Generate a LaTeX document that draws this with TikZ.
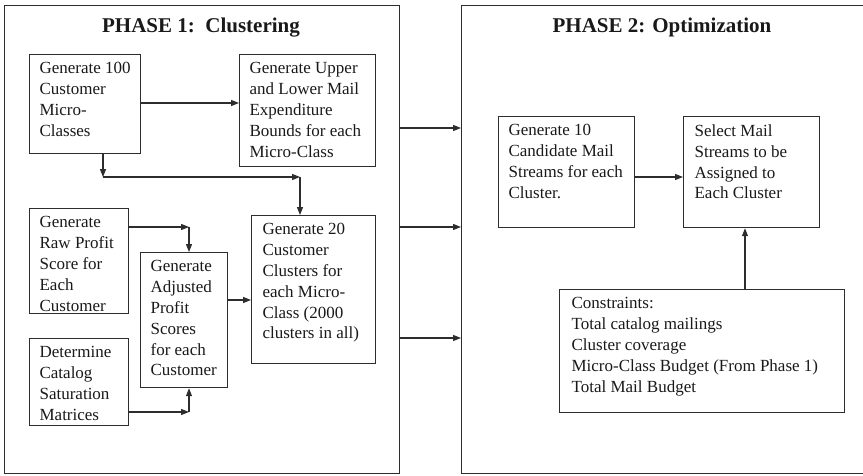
\documentclass[tikz,border=0pt]{standalone}
\usepackage{fontspec}
\setmainfont{Liberation Serif}
\usetikzlibrary{arrows.meta}

\definecolor{ink}{RGB}{45,45,45}
\tikzset{
  phase/.style={draw=ink, line width=1.3pt, anchor=north west, inner sep=0pt},
  stage/.style={draw=ink, line width=1.2pt, anchor=north west, inner xsep=10pt,
    inner ysep=8pt, text=black!90, font=\fontsize{17}{20.8}\selectfont},
  title/.style={anchor=base, text=black!90, font=\fontsize{21}{25}\selectfont\bfseries},
  flow/.style={draw=ink, line width=1.2pt, -{Triangle[length=8pt,width=6pt]}},
}
\newcommand{\stagetext}[3]{\parbox[c][#2pt][t]{#1pt}{\raggedright #3}}

\begin{document}
\begin{tikzpicture}[x=1pt, y=-1pt]
  \clip (0,0) rectangle (863,475);

  % Phase frames
  \node[phase, minimum width=395pt, minimum height=468pt] (phase1) at (4,5) {};
  \node[phase, minimum width=420pt, minimum height=468pt] (phase2) at (461,5) {};
  \node[title] (title1) at (201,32) {PHASE 1:\ \ Clustering};
  \node[title] (title2) at (662,32) {PHASE 2: Optimization};

  % Phase 1 steps
  \node[stage] (gen100) at (29,54)
    {\stagetext{91}{83}{Generate 100\\Customer\\Micro-\\Classes}};
  \node[stage] (bounds) at (239,54)
    {\stagetext{116}{96}{Generate Upper\\and Lower Mail\\Expenditure\\Bounds for each\\Micro-Class}};
  \node[stage, inner xsep=11pt] (clusters) at (251,215)
    {\stagetext{102}{132}{Generate 20\\Customer\\Clusters for\\each Micro-\\Class (2000\\clusters in all)}};
  \node[stage] (rawscore) at (29,208)
    {\stagetext{79}{89}{Generate\\Raw Profit\\Score for\\Each\\Customer}};
  \node[stage] (saturation) at (29,338)
    {\stagetext{79}{71}{Determine\\Catalog\\Saturation\\Matrices}};
  \node[stage] (adjusted) at (140,252)
    {\stagetext{67}{119}{Generate\\Adjusted\\Profit\\Scores\\for each\\Customer}};

  % Phase 2 steps
  \node[stage] (streams) at (498,116)
    {\stagetext{116}{95}{Generate 10\\Candidate Mail\\Streams for each\\Cluster.}};
  \node[stage, inner xsep=11pt] (select) at (683,116)
    {\stagetext{114}{95}{Select Mail\\Streams to be\\Assigned to\\Each Cluster}};
  \node[stage, inner xsep=12pt] (constraints) at (559,289)
    {\stagetext{261}{107}{Constraints:\\Total catalog mailings\\Cluster coverage\\Micro-Class Budget (From Phase 1)\\Total Mail Budget}};

  % Junctions
  \coordinate (j1) at (103,177);
  \coordinate (j2) at (300,177);
  \coordinate (j3) at (189,227);
  \coordinate (j4) at (189,412);
  \coordinate (j5) at (240,300);
  \coordinate (j6) at (660,177);
  \coordinate (j7) at (745,250);

  % Phase 1 flows
  \draw[flow] (gen100.east |- 0,103) -- (bounds.west |- 0,103);
  \draw[flow] (gen100.south -| j1) -- (j1);
  \draw[flow] (j1) -- (j2);
  \draw[flow] (j2) -- (j2 |- clusters.north);
  \draw[flow] (rawscore.east |- j3) -- (j3);
  \draw[flow] (j3) -- (j3 |- adjusted.north);
  \draw[flow] (saturation.east |- j4) -- (j4);
  \draw[flow] (j4) -- (j4 |- adjusted.south);
  \draw[flow] (adjusted.east |- j5) -- (clusters.west |- j5);

  % Phase 1 to phase 2
  \foreach \y [count=\i] in {128,227,338} {
    \coordinate (p\i) at (430,\y);
    \draw[flow] (phase1.east |- p\i) -- (phase2.west |- p\i);
  }

  % Phase 2 flows
  \draw[flow] (streams.east |- j6) -- (select.west |- j6);
  \draw[flow] (j7 |- constraints.north) -- (j7 |- select.south);

\end{tikzpicture}
\end{document}
